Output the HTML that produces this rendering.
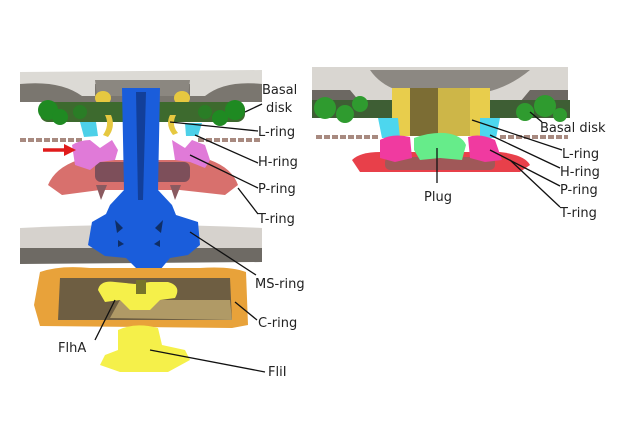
<!DOCTYPE html>
<html><head><meta charset="utf-8"><style>
html,body{margin:0;padding:0;background:#fff;}
svg{display:block;}
text{font-family:"DejaVu Sans","Liberation Sans",sans-serif;font-size:13px;fill:#222;}
</style></head><body>
<svg width="630" height="442" viewBox="0 0 630 442" xmlns="http://www.w3.org/2000/svg">
<!-- LEFT FIGURE -->
<!-- top membrane -->
<rect x="20" y="72" width="242" height="30" fill="#7a766f"/>
<path d="M20,72 L262,70 L262,84 Q225,80 205,96 L190,96 L190,84 L95,84 L95,96 L82,96 Q60,80 20,84 Z" fill="#dcdad5"/>
<path d="M95,80 L190,80 L188,96 L97,96 Z" fill="#8b8780"/>
<ellipse cx="103" cy="98" rx="8" ry="7" fill="#e6c840"/>
<ellipse cx="182" cy="98" rx="8" ry="7" fill="#e6c840"/>
<!-- green basal disk -->
<rect x="40" y="102" width="205" height="20" rx="8" fill="#3d6a2e"/>
<circle cx="48" cy="110" r="10" fill="#1f8a22"/>
<circle cx="60" cy="117" r="8" fill="#1f8a22"/>
<circle cx="80" cy="112" r="7" fill="#2a7d26"/>
<circle cx="235" cy="110" r="10" fill="#1f8a22"/>
<circle cx="220" cy="118" r="8" fill="#1f8a22"/>
<circle cx="205" cy="112" r="7" fill="#2a7d26"/>
<path d="M105,115 q5,10 -2,20 l5,2 q8,-10 3,-22z" fill="#e6c840"/>
<path d="M176,115 q-5,10 2,18 l-5,2 q-8,-10 -3,-20z" fill="#e6c840"/>
<!-- cyan -->
<path d="M80,122 L96,122 L98,136 L84,137 Z" fill="#4dd0e8"/>
<path d="M185,123 L202,123 L198,136 L186,136 Z" fill="#4dd0e8"/>
<!-- dashed line -->
<line x1="20" y1="140" x2="82" y2="140" stroke="#a88a80" stroke-width="4" stroke-dasharray="6,2"/>
<line x1="198" y1="140" x2="262" y2="140" stroke="#a88a80" stroke-width="4" stroke-dasharray="6,2"/>
<!-- T-ring salmon -->
<path d="M48,185 Q55,168 78,160 L210,160 Q232,168 238,185 L225,195 L180,190 L100,190 L62,195 Z" fill="#d8706d"/>
<rect x="95" y="162" width="95" height="20" rx="6" fill="#7d4f5a"/>
<path d="M96,185 l5,15 l6,-15z M170,185 l5,15 l6,-15z" fill="#8a5a60"/>
<!-- P-ring pink -->
<path d="M72,145 Q80,140 90,140 L100,148 L112,140 L118,150 L115,160 L100,162 L90,170 L75,165 Z" fill="#e07ad8"/>
<path d="M172,140 L185,148 L192,140 L205,145 L210,160 L205,168 L190,162 L175,160 Z" fill="#e07ad8"/>
<!-- red arrow -->
<line x1="43" y1="150" x2="66" y2="150" stroke="#e01b1b" stroke-width="3.5"/>
<path d="M64,144 L76,150 L64,156 Z" fill="#e01b1b"/>
<!-- lower membrane -->
<path d="M20,228 Q140,222 262,228 L262,250 L20,250 Z" fill="#d6d2cd"/>
<path d="M20,248 L262,248 L262,262 L20,264 Z" fill="#6e6a64"/>
<!-- blue rod -->
<path d="M122,88 L160,88 L158,190 L172,205 L176,215 L198,222 L200,245 L188,255 L170,258 L160,270 L140,272 L126,258 L105,256 L88,245 L92,222 L106,214 L110,205 L124,190 Z" fill="#1a5ddb"/>
<path d="M136,92 L146,92 L143,200 L138,200 Z" fill="#123f9a"/>
<path d="M115,220 l8,8 l-6,5z M163,220 l-8,8 l6,5z M118,240 l6,4 l-6,3z M160,240 l-6,4 l6,3z" fill="#0f2e66"/>
<!-- C-ring -->
<path d="M40,272 Q60,265 90,268 L200,268 Q230,266 246,272 L248,325 L232,328 L40,326 L34,305 Z" fill="#e8a23a"/>
<path d="M60,278 L230,278 L232,320 L58,320 Z" fill="#6e5e42"/>
<path d="M120,300 L230,300 L232,320 L110,318 Z" fill="#b09a66"/>
<!-- FlhA -->
<path d="M98,290 Q100,280 115,282 L135,284 L150,282 L168,282 Q182,286 175,298 L160,300 L150,310 L130,310 L120,300 L105,302 Z" fill="#f5f04a"/>
<rect x="136" y="280" width="10" height="14" fill="#77742a"/>
<!-- FliI -->
<path d="M118,330 Q135,322 158,328 L162,345 L185,350 L190,360 L168,372 L120,372 L100,365 L105,355 L118,350 Z" fill="#f5f04a"/>
<!-- leader lines left -->
<g stroke="#111" stroke-width="1.3" fill="none">
<line x1="245" y1="112" x2="262" y2="104"/>
<line x1="170" y1="122" x2="258" y2="131"/>
<line x1="195" y1="135" x2="258" y2="163"/>
<line x1="190" y1="155" x2="258" y2="188"/>
<line x1="238" y1="188" x2="258" y2="214"/>
<line x1="190" y1="232" x2="256" y2="275"/>
<line x1="235" y1="302" x2="257" y2="320"/>
<line x1="115" y1="300" x2="95" y2="340"/>
<line x1="150" y1="350" x2="265" y2="372"/>
</g>
<text x="262" y="94">Basal</text>
<text x="266" y="112">disk</text>
<text x="258" y="136">L-ring</text>
<text x="258" y="166">H-ring</text>
<text x="258" y="193">P-ring</text>
<text x="258" y="223">T-ring</text>
<text x="255" y="288">MS-ring</text>
<text x="258" y="327">C-ring</text>
<text x="58" y="352">FlhA</text>
<text x="268" y="376">FliI</text>

<!-- RIGHT FIGURE -->
<path d="M312,67 L568,67 L568,102 L312,102 Z" fill="#d9d6d1"/>
<path d="M370,70 L530,70 Q500,95 460,95 L420,95 Q385,92 370,70 Z" fill="#8c8882"/>
<path d="M312,90 L350,90 L360,102 L312,102 Z M568,90 L530,90 L520,102 L568,102Z" fill="#6c6862"/>
<!-- green -->
<rect x="312" y="100" width="258" height="18" fill="#3e5e34"/>
<circle cx="325" cy="108" r="11" fill="#2f9b2f"/>
<circle cx="345" cy="114" r="9" fill="#2f9b2f"/>
<circle cx="360" cy="104" r="8" fill="#2f9b2f"/>
<circle cx="545" cy="106" r="11" fill="#2f9b2f"/>
<circle cx="525" cy="112" r="9" fill="#2f9b2f"/>
<circle cx="560" cy="115" r="7" fill="#2f9b2f"/>
<!-- yellow channel -->
<rect x="392" y="88" width="98" height="48" fill="#e8cd4c"/>
<rect x="410" y="88" width="28" height="48" fill="#7c6d34"/>
<rect x="438" y="88" width="32" height="48" fill="#cdb648"/>
<!-- cyan -->
<path d="M378,118 L398,118 L400,138 L382,138 Z" fill="#4dd6ee"/>
<path d="M480,118 L500,118 L496,138 L480,138 Z" fill="#4dd6ee"/>
<line x1="316" y1="137" x2="380" y2="137" stroke="#a88a80" stroke-width="4" stroke-dasharray="6,2"/>
<line x1="500" y1="137" x2="568" y2="137" stroke="#a88a80" stroke-width="4" stroke-dasharray="6,2"/>
<!-- T-ring -->
<path d="M352,160 Q360,152 380,152 L500,152 Q525,155 530,165 L520,172 L360,172 Z" fill="#e8404a"/>
<rect x="385" y="157" width="110" height="13" rx="5" fill="#a05858"/>
<!-- magenta -->
<path d="M380,140 Q392,133 410,137 L412,158 L395,162 L380,158 Z" fill="#f03aa0"/>
<path d="M468,137 Q480,133 495,140 L502,160 L485,162 L470,158 Z" fill="#f03aa0"/>
<!-- plug -->
<path d="M414,138 Q430,132 445,133 Q462,135 466,145 L462,160 L440,158 L420,160 L414,150 Z" fill="#66ec8a"/>
<g stroke="#111" stroke-width="1.3" fill="none">
<line x1="530" y1="112" x2="542" y2="122"/>
<line x1="472" y1="120" x2="562" y2="150"/>
<line x1="490" y1="135" x2="560" y2="168"/>
<line x1="490" y1="150" x2="560" y2="186"/>
<line x1="510" y1="160" x2="560" y2="207"/>
<line x1="437" y1="148" x2="437" y2="183"/>
</g>
<text x="540" y="132">Basal disk</text>
<text x="562" y="158">L-ring</text>
<text x="560" y="176">H-ring</text>
<text x="560" y="194">P-ring</text>
<text x="560" y="217">T-ring</text>
<text x="424" y="201">Plug</text>
</svg>
</body></html>
